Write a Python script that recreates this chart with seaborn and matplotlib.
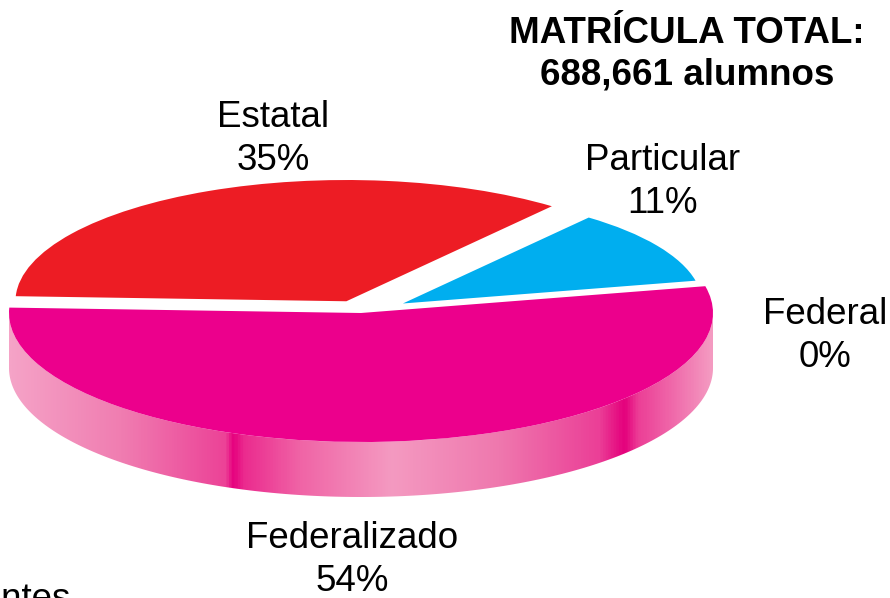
import numpy as np
import matplotlib
matplotlib.use("Agg")
import matplotlib.pyplot as plt
import seaborn as sns
from matplotlib.patches import Polygon
from matplotlib.colors import LinearSegmentedColormap

# ---- data ----
categorias = ["Federal", "Particular", "Estatal", "Federalizado"]
porcentajes = [0, 11, 35, 54]
titulo = ["MATRÍCULA TOTAL:", "688,661 alumnos"]
fuente = "Fuentes"

# ---- style ----
sns.set_theme(style="white")
plt.rcParams['font.family'] = ['Liberation Sans', 'DejaVu Sans']
colores = sns.color_palette(["#7F3F98", "#00AEEF", "#ED1C24", "#EC008C"])
explode = [0, 0.14, 0.10, 0]
radios = [1.0, 0.85, 0.94, 1.0]
start = 12

W, H = 890, 598
fig = plt.figure(figsize=(W / 100, H / 100), dpi=100)
ax = fig.add_axes([0, 0, 1, 1])

# pixel geometry of the projected pie
X0, Y0, A, B = 361, 313, 352, 129
t = 55 / B  # thickness in y data units

def px(x, y):
    return (x - X0) / A, (Y0 - y) / B

# ---- pie top ----
wedges, _ = ax.pie(porcentajes, colors=colores, startangle=start,
                   counterclock=True, explode=explode, radius=1,
                   wedgeprops=dict(linewidth=0))
for w, r in zip(wedges, radios):
    w.set_radius(r)
    w.set_zorder(2)

# ---- side of front wedge (Federalizado) ----
cum = np.cumsum([0] + porcentajes) / 100 * 360 + start
i = categorias.index("Federalizado")
th0, th1 = max(cum[i], 180), min(cum[i + 1], 360)
th = np.radians(np.linspace(th0, th1, 200))
top = np.column_stack([np.cos(th), np.sin(th)])
bot = np.column_stack([np.cos(th[::-1]), np.sin(th[::-1]) - t])
poly = Polygon(np.vstack([top, bot]), closed=True, facecolor="none",
               edgecolor="none", transform=ax.transData)
ax.add_patch(poly)

stops_px = [9, 120, 225, 233, 243, 300, 392, 500, 600, 626, 640, 713]
stops_c = ["#F5A3C7", "#F07DB1", "#EC4297", "#E6007E", "#EB2A8E", "#F064A6",
           "#F49AC1", "#EF78AE", "#EB3F97", "#E4007C", "#EC3E96", "#F49AC1"]
pos = [(p - stops_px[0]) / (stops_px[-1] - stops_px[0]) for p in stops_px]
cmap = LinearSegmentedColormap.from_list("side", list(zip(pos, stops_c)))
xl, _ = px(stops_px[0], 0)
xr, _ = px(stops_px[-1], 0)
grad = np.linspace(0, 1, 800)[np.newaxis, :]
im = ax.imshow(grad, extent=[xl, xr, -1 - t - 0.05, 0.2], aspect="auto",
               cmap=cmap, zorder=1, interpolation="bilinear")
im.set_clip_path(poly)

# ---- labels ----
lab_pos = {"Estatal": (273, 139), "Particular": (663, 182),
           "Federal": (825, 336), "Federalizado": (352, 560)}
for c, v in zip(categorias, porcentajes):
    x, y = px(*lab_pos[c])
    ax.text(x, y, f"{c}\n{v}%", ha="center", va="center", fontsize=26.5,
            linespacing=1.28, color="black", zorder=0.5)

tx, ty = px(687, 54)
ax.text(tx, ty, "\n".join(titulo), ha="center", va="center", fontsize=26.5,
        fontweight="bold", linespacing=1.24, color="black", zorder=3)

fx, fy = px(-62, 609)
ax.text(fx, fy, fuente, ha="left", va="baseline", fontsize=26.5, color="black",
        zorder=3, clip_on=False)

ax.set_aspect("auto")
ax.set_xlim(px(0, 0)[0], px(W, 0)[0])
ax.set_ylim(px(0, H)[1], px(0, 0)[1])
ax.axis("off")

fig.savefig("out.png", dpi=100, facecolor="white")
